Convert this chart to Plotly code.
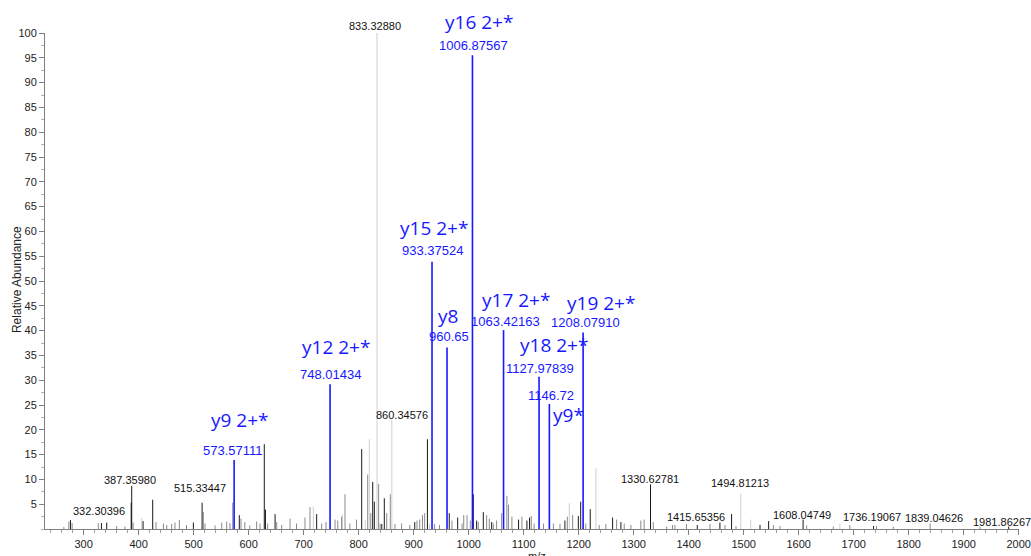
import plotly.graph_objects as go

# ---------------- data ----------------
# assigned fragment ions (blue)
ion_mz = [573.57111, 748.01434, 933.37524, 960.65, 1006.87567, 1063.42163, 1127.97839, 1146.72, 1208.07910]
ion_int = [13.9, 29.2, 53.9, 36.6, 95.5, 40.1, 30.7, 25.2, 39.6]
ion_name = ["y9 2+*", "y12 2+*", "y15 2+*", "y8", "y16 2+*", "y17 2+*", "y18 2+*", "y9*", "y19 2+*"]
ion_text = ["573.57111", "748.01434", "933.37524", "960.65", "1006.87567", "1063.42163",
            "1127.97839", "1146.72", "1208.07910"]

# labelled peaks (black labels)
lab_mz = [332.30396, 387.35980, 515.33447, 833.32880, 860.34576, 1330.62781, 1415.65356,
          1494.81213, 1608.04749, 1736.19067, 1839.04626, 1981.86267]
lab_int = [1.2, 8.7, 5.3, 100.0, 22.0, 9.0, 0.8, 7.2, 1.9, 0.6, 1.1, 0.5]
lab_text = ["332.30396", "387.35980", "515.33447", "833.32880", "860.34576", "1330.62781",
            "1415.65356", "1494.81213", "1608.04749", "1736.19067", "1839.04626", "1981.86267"]
lab_tone = ["k", "k", "k", "l", "l", "k", "k", "l", "k", "k", "g", "k"]

# unlabelled peaks, dark
dark_mz = [276, 341.9, 386.4, 408, 425.5, 499.5, 583, 628.4, 630.5, 648, 723.6, 805.5, 825.5,
           828.5, 842, 846.6, 902, 925, 964.7, 980, 1008.5, 1014.5, 1026.6, 1041.8, 1090.7,
           1105.9, 1110.7, 1175, 1199.4, 1203.7, 1221, 1261.7, 1276.8, 1456.8, 1478, 1529.7, 1545.4]
dark_int = [1.8, 1.3, 5.3, 1.6, 5.9, 1.3, 2.8, 17.1, 3.9, 3.0, 3.0, 16.1, 9.5,
            5.5, 1.0, 6.2, 1.4, 18.1, 3.2, 2.3, 7.0, 1.7, 3.4, 1.4, 1.9,
            1.7, 2.3, 1.7, 2.6, 5.5, 4.0, 2.3, 1.4, 1.3, 3.0, 0.8, 1.6]

# unlabelled peaks, medium grey
grey_mz = [264, 273, 279, 326.6, 360, 375, 390, 431.5, 445, 451, 460, 466, 474, 487, 517.6, 520.6,
           538.8, 551, 560, 566, 571, 586, 593, 602, 614.5, 620.6, 634.5, 651, 660, 675.2, 687,
           702.4, 711.5, 732.7, 740.6, 757, 762, 769, 775.2, 784, 796, 816.4, 822, 836.3, 839,
           851, 857.5, 866, 878, 893, 906, 911, 916, 920, 938, 947, 969.6, 988, 991, 997, 1003,
           1017.5, 1032.7, 1037.5, 1044.8, 1050.8, 1060, 1069.5, 1072.5, 1078.6, 1096.8, 1113.8,
           1119, 1136, 1154, 1166, 1179.4, 1189, 1213, 1237.4, 1249.5, 1269, 1282.8, 1295, 1313,
           1319, 1335.6, 1360, 1370.7, 1375, 1396, 1438.6, 1466, 1486, 1554, 1566, 1614.5, 1663,
           1693, 1741.6, 1772, 1929.6]
grey_int = [0.4, 1.5, 1.2, 1.2, 0.6, 0.5, 1.3, 1.4, 1.1, 0.8, 1.0, 1.3, 1.8, 0.8, 3.4, 1.1,
            0.7, 1.3, 1.5, 1.2, 5.3, 2.1, 1.4, 0.7, 1.5, 1.1, 1.1, 1.4, 0.8, 2.1, 1.1,
            2.3, 4.4, 1.1, 1.4, 1.9, 1.7, 2.5, 7.0, 1.1, 1.9, 11.0, 3.2, 9.1, 1.1,
            3.2, 7.0, 1.0, 1.1, 0.8, 1.7, 1.9, 2.8, 3.2, 1.0, 0.8, 1.7, 1.1, 2.8, 2.8, 1.7,
            1.4, 2.8, 2.1, 1.1, 1.7, 3.2, 6.7, 4.9, 2.5, 2.5, 2.6,
            1.1, 1.1, 1.1, 1.0, 2.5, 2.8, 1.1, 0.8, 1.0, 1.9, 1.1, 0.8, 1.7,
            1.9, 1.4, 0.5, 0.8, 0.8, 1.0, 1.0, 0.8, 0.6, 0.8, 0.6, 0.7, 0.5,
            0.8, 0.6, 0.5, 0.5]

# unlabelled peaks, light grey
light_mz = [405.5, 717.6, 770.5, 812, 819.4, 929, 1183, 1231.3, 1512.7, 1675]
light_int = [2.2, 4.5, 3.0, 1.8, 18.1, 1.1, 5.2, 12.2, 1.9, 1.1]

x_ticks = [300, 400, 500, 600, 700, 800, 900, 1000, 1100, 1200, 1300, 1400, 1500, 1600, 1700, 1800, 1900, 2000]
y_ticks = [5, 10, 15, 20, 25, 30, 35, 40, 45, 50, 55, 60, 65, 70, 75, 80, 85, 90, 95, 100]

# ---------------- styling ----------------
BLUE = "rgb(24,24,255)"
TONES = {"k": "#1a1a1a", "g": "#8a8a8a", "l": "#cfcfcf"}
NUMFONT = "Liberation Sans, Arial, sans-serif"
IONFONT = "Open Sans, Noto Sans, sans-serif"

# pixel offsets of labels (x, y) relative to peak top
ion_name_off = [(6, 40), (6, 37), (1.5, 33.7), (1, 31.8), (6.6, 33.6), (12.5, 30.1), (15, 31.7), (19.6, -11), (18, 29.6)]
ion_text_off = [(-1, 9.4), (0, 9.2), (0, 10.7), (2, 10.5), (1.1, 9.6), (1.5, 9.1), (1, 8.7), (1.6, 9), (2, 9.6)]
lab_off = [(-2, 12.3), (-1.7, 5.8), (-2, 14.7), (-2, 7.3), (10.6, 4.9), (-0.5, 5.4), (-1.3, 7.7),
           (-0.8, 10), (-1.6, 4.6), (-1.6, 9.3), (3.9, 5.2), (-6.7, 4.8)]


def stems(mz, inten):
    xs, ys = [], []
    for m, h in zip(mz, inten):
        xs += [m, m, None]
        ys += [0, h, None]
    return xs, ys


fig = go.Figure()

groups = [
    (light_mz + [m for m, t in zip(lab_mz, lab_tone) if t == "l"],
     light_int + [h for h, t in zip(lab_int, lab_tone) if t == "l"], TONES["l"]),
    (grey_mz + [m for m, t in zip(lab_mz, lab_tone) if t == "g"],
     grey_int + [h for h, t in zip(lab_int, lab_tone) if t == "g"], TONES["g"]),
    (dark_mz + [m for m, t in zip(lab_mz, lab_tone) if t == "k"],
     dark_int + [h for h, t in zip(lab_int, lab_tone) if t == "k"], TONES["k"]),
]
for mz, inten, col in groups:
    xs, ys = stems(mz, inten)
    fig.add_trace(go.Scatter(x=xs, y=ys, mode="lines", line=dict(color=col, width=1),
                             hoverinfo="skip", showlegend=False))

xs, ys = stems(ion_mz, ion_int)
fig.add_trace(go.Scatter(x=xs, y=ys, mode="lines", line=dict(color=BLUE, width=1.6),
                         hoverinfo="skip", showlegend=False))

annotations = []
for m, h, name, txt, (nx, ny), (tx, ty) in zip(ion_mz, ion_int, ion_name, ion_text, ion_name_off, ion_text_off):
    annotations.append(dict(x=m, y=h, xref="x", yref="y", text=name, showarrow=False,
                            xanchor="center", yanchor="middle", xshift=nx, yshift=ny,
                            font=dict(family=IONFONT, size=19, color=BLUE)))
    annotations.append(dict(x=m, y=h, xref="x", yref="y", text=txt, showarrow=False,
                            xanchor="center", yanchor="middle", xshift=tx, yshift=ty,
                            font=dict(family=NUMFONT, size=13, color=BLUE)))
for m, h, txt, (tx, ty) in zip(lab_mz, lab_int, lab_text, lab_off):
    annotations.append(dict(x=m, y=h, xref="x", yref="y", text=txt, showarrow=False,
                            xanchor="center", yanchor="middle", xshift=tx, yshift=ty,
                            font=dict(family=NUMFONT, size=11, color="#111111")))

annotations.append(dict(x=-0.0287, y=0.502, xref="paper", yref="paper", text="Relative Abundance",
                        textangle=-90, showarrow=False, xanchor="center", yanchor="middle",
                        font=dict(family=NUMFONT, size=12, color="#222222")))
annotations.append(dict(x=0.505, y=-0.038, xref="paper", yref="paper", text="m/z",
                        showarrow=False, xanchor="center", yanchor="top",
                        font=dict(family=NUMFONT, size=11, color="#222222")))

fig.update_layout(
    width=1031, height=556,
    margin=dict(l=45, r=12, t=33, b=27, autoexpand=False),
    paper_bgcolor="white", plot_bgcolor="white",
    showlegend=False,
    annotations=annotations,
    xaxis=dict(range=[229.7, 2000.6], tickmode="array", tickvals=x_ticks, automargin=False,
               ticktext=[str(v) for v in x_ticks],
               showline=True, linecolor="#808080", linewidth=1, showgrid=False, zeroline=False,
               ticks="outside", ticklen=5, tickcolor="#808080", tickwidth=1,
               tickfont=dict(family=NUMFONT, size=11, color="#222222"),
               minor=dict(dtick=20, tick0=0, ticks="outside", ticklen=3, tickcolor="#a0a0a0", showgrid=False)),
    yaxis=dict(range=[0, 100], tickmode="array", tickvals=y_ticks, automargin=False,
               ticktext=[str(v) for v in y_ticks],
               showline=True, linecolor="#808080", linewidth=1, showgrid=False, zeroline=False,
               ticks="outside", ticklen=5, tickcolor="#808080", tickwidth=1,
               tickfont=dict(family=NUMFONT, size=11, color="#222222"),
               minor=dict(dtick=2.5, tick0=0, ticks="outside", ticklen=3, tickcolor="#b0b0b0", showgrid=False)),
)

# remove the default page margin so the figure sits at the window's top-left corner
fig.write_html("out.html", config={"displayModeBar": False},
               post_script="document.body.style.margin='0';document.body.style.overflow='hidden';")
